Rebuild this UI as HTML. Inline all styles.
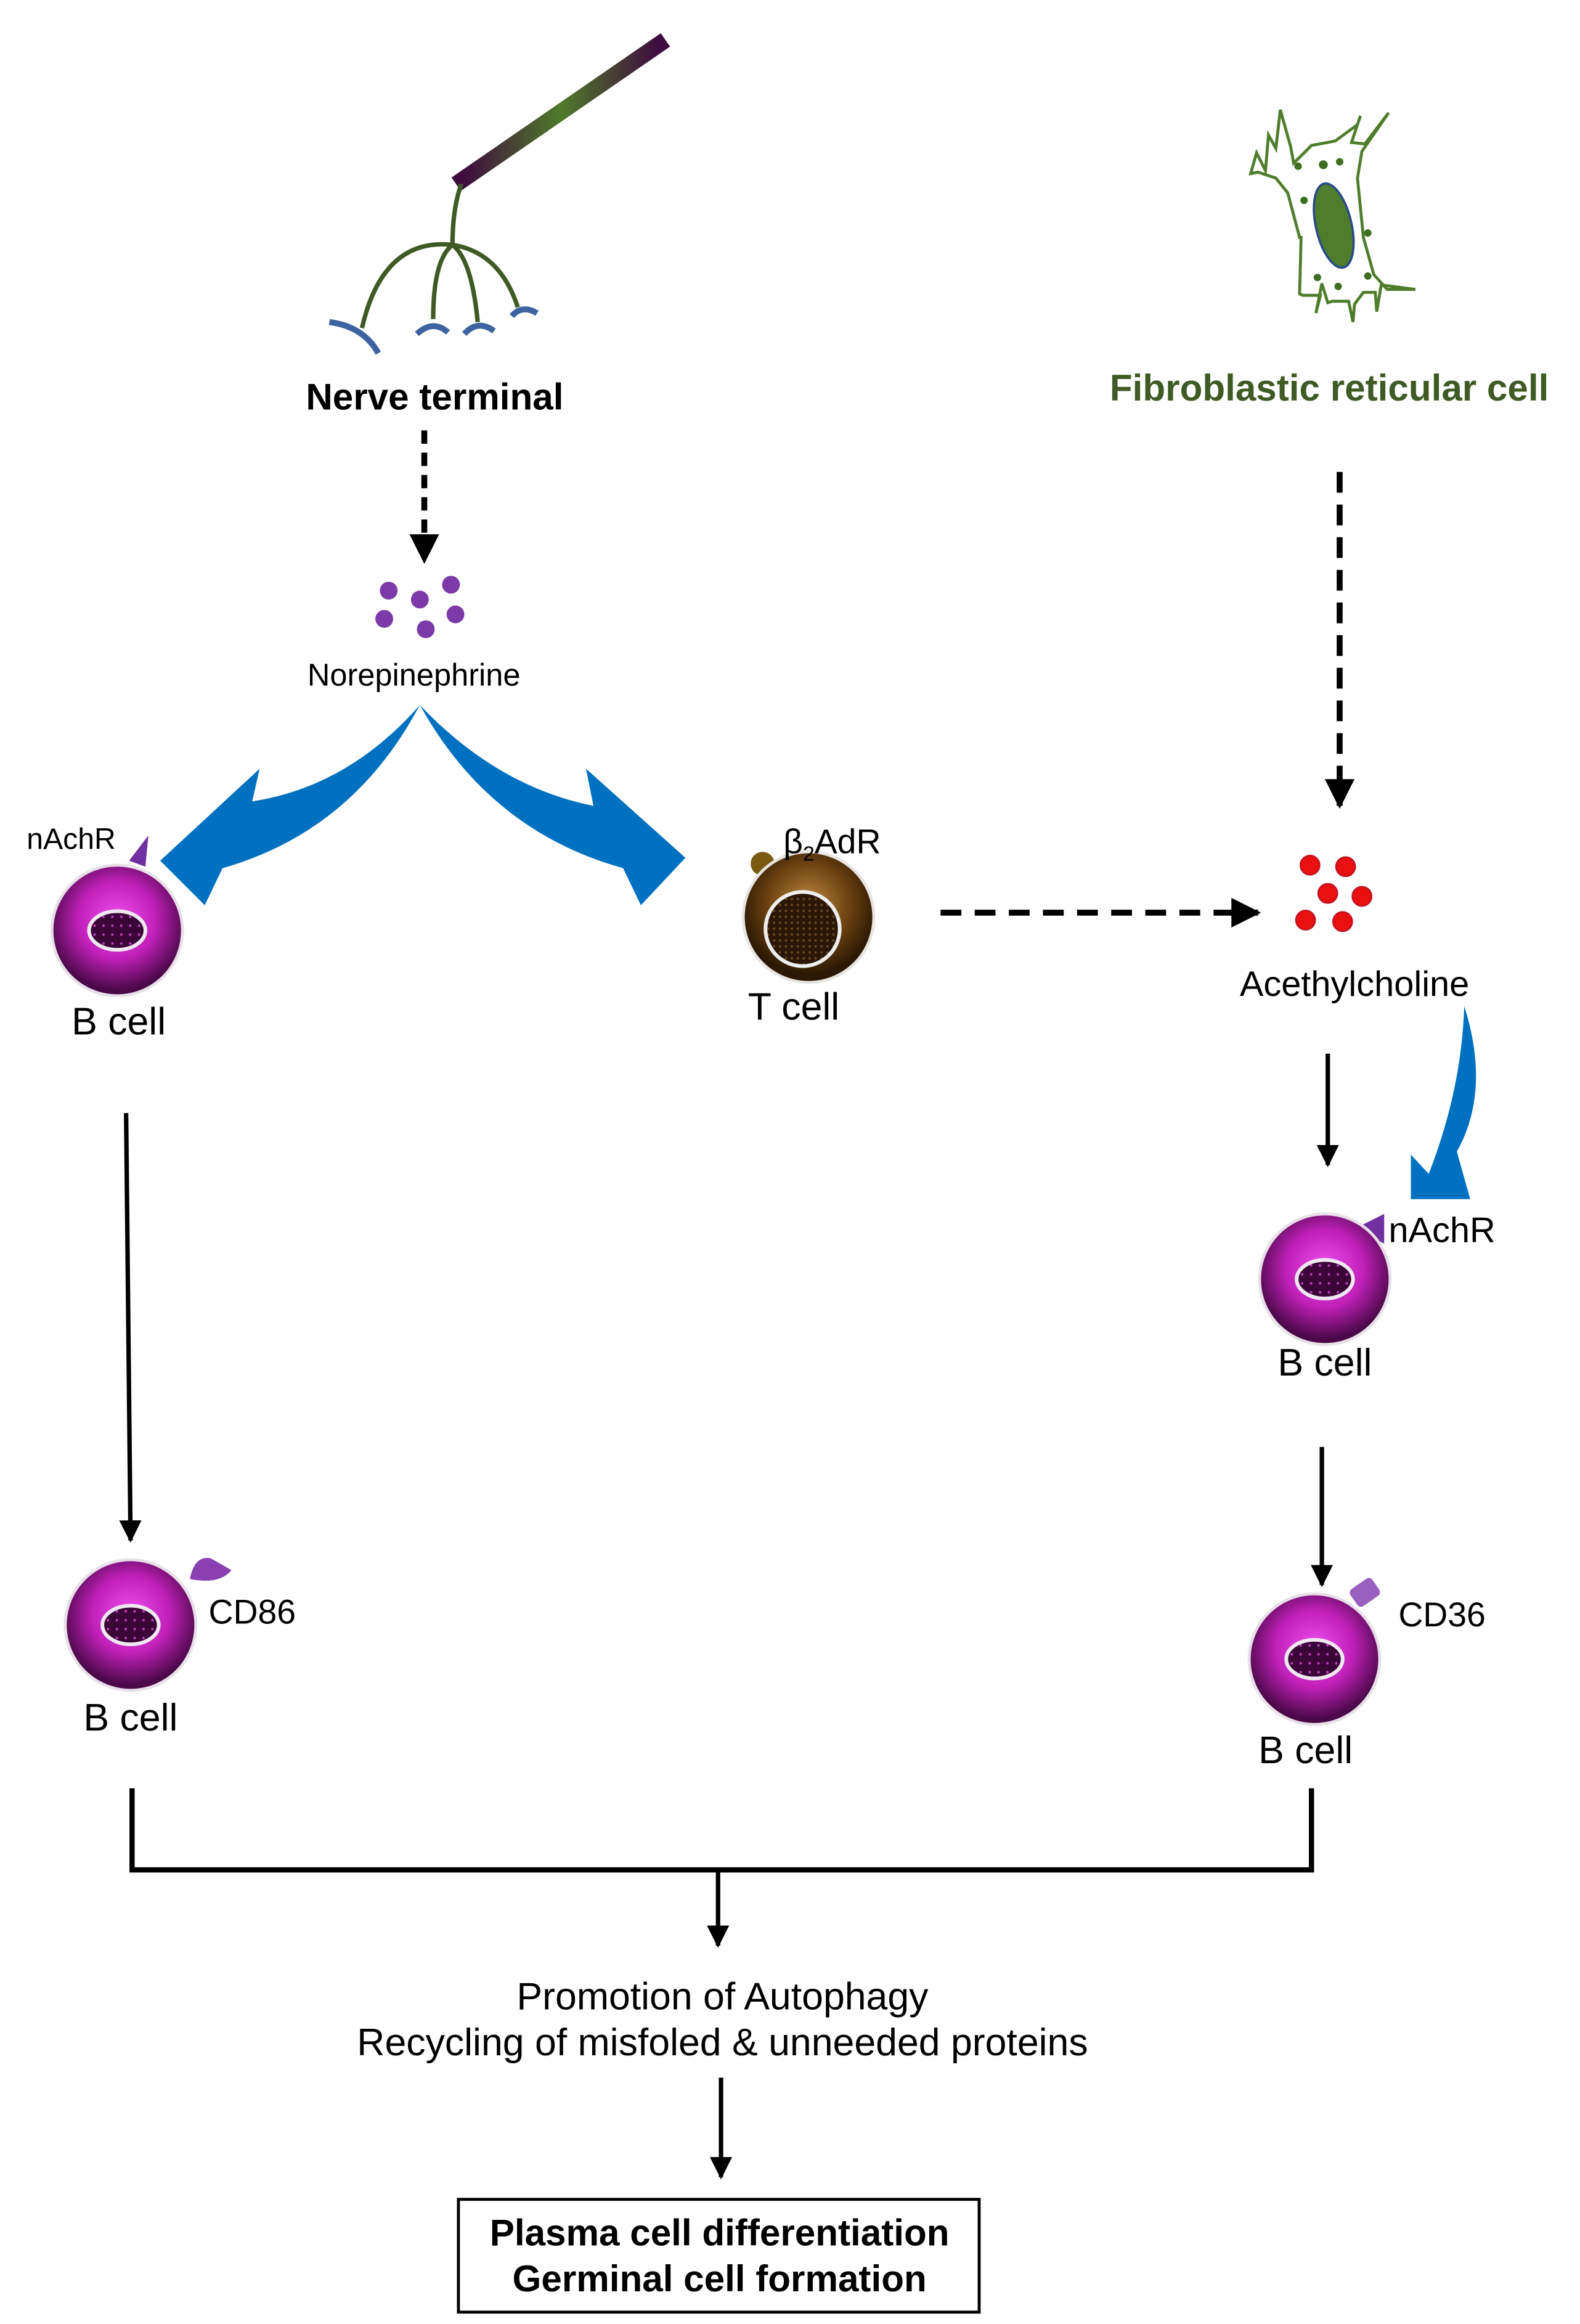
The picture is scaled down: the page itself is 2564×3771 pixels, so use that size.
<!DOCTYPE html>
<html><head><style>html,body{margin:0;padding:0;background:#fff}svg{display:block}</style></head>
<body>
<svg width="2564" height="3771" viewBox="0 0 1065 1566" preserveAspectRatio="none" xmlns="http://www.w3.org/2000/svg" font-family="Liberation Sans, sans-serif">
<defs>
<radialGradient id="bc" cx="50%" cy="42%" r="55%"><stop offset="0" stop-color="#f050f0"/><stop offset="0.55" stop-color="#c020b8"/><stop offset="1" stop-color="#4a0848"/></radialGradient>
<radialGradient id="tc" cx="50%" cy="40%" r="55%"><stop offset="0" stop-color="#c08a40"/><stop offset="0.6" stop-color="#6a4010"/><stop offset="1" stop-color="#2a1804"/></radialGradient>
<linearGradient id="rod" x1="0" y1="0" x2="1" y2="0"><stop offset="0" stop-color="#3e0c3e"/><stop offset="0.5" stop-color="#4f7a2a"/><stop offset="1" stop-color="#3e0c3e"/></linearGradient>
<pattern id="dots" width="6" height="6" patternUnits="userSpaceOnUse"><rect width="6" height="6" fill="#3a0638"/><rect x="2" y="2" width="1.5" height="1.5" fill="#c040c0"/></pattern>
<pattern id="tdots" width="4" height="4" patternUnits="userSpaceOnUse"><rect width="4" height="4" fill="#2a1606"/><rect x="1" y="1" width="1.5" height="1.5" fill="#6a4a20"/></pattern>
<marker id="ah" viewBox="0 0 10 10" refX="9" refY="5" markerWidth="5" markerHeight="5" orient="auto" markerUnits="strokeWidth"><path d="M0,0 L10,5 L0,10 Z" fill="#000"/></marker>
<g id="bcell"><circle r="45" fill="#e8e0e8"/><circle r="43" fill="url(#bc)"/><ellipse rx="19" ry="13" fill="url(#dots)" stroke="#f0e8f0" stroke-width="2.5"/></g>
</defs>

<!-- Nerve -->
<line x1="312" y1="121" x2="444" y2="30" stroke="url(#rod)" stroke-width="11" stroke-linecap="square"/>
<g fill="none" stroke="#3f5a24" stroke-width="3">
<path d="M311,124 Q305,140 305,165"/>
<path d="M305,165 Q258,160 244,221"/>
<path d="M305,165 Q292,175 292,215"/>
<path d="M305,165 Q318,175 322,217"/>
<path d="M305,165 Q337,170 349,207"/>
</g>
<g fill="none" stroke="#3d64a0" stroke-width="4">
<path d="M222,217 Q245,220 255,238"/>
<path d="M281,225 Q292,215 302,224"/>
<path d="M313,225 Q322,215 333,223"/>
<path d="M345,213 Q352,205 362,211"/>
</g>
<text x="293" y="276" font-size="25" font-weight="bold" text-anchor="middle" fill="#000">Nerve terminal</text>
<line x1="286" y1="290" x2="286" y2="378" stroke="#000" stroke-width="4" stroke-dasharray="9,6" marker-end="url(#ah)"/>
<g fill="#7b3aa8"><circle cx="262" cy="398" r="6"/><circle cx="283" cy="404" r="6"/><circle cx="304" cy="394" r="6"/><circle cx="259" cy="417" r="6"/><circle cx="287" cy="424" r="6"/><circle cx="307" cy="414" r="6"/></g>
<text x="279" y="462" font-size="21" text-anchor="middle">Norepinephrine</text>

<!-- blue arrows -->
<path d="M283,475 Q235,530 170,540 L175,518 L108,580 L138,610 L150,585 Q238,560 283,475 Z" fill="#0070c0"/>
<path d="M283,475 Q335,530 400,543 L395,518 L462,578 L432,610 L420,585 Q330,560 283,475 Z" fill="#0070c0"/>

<!-- left B cell -->
<polygon points="87,580 100,563 98,584" fill="#7030a0"/>
<use href="#bcell" x="79" y="627"/>
<text x="48" y="572" font-size="20" text-anchor="middle">nAchR</text>
<text x="80" y="697" font-size="26" text-anchor="middle">B cell</text>

<!-- T cell -->
<circle cx="514" cy="582" r="8" fill="#7a5a10"/>
<circle cx="545" cy="618" r="45" fill="#e8e4e0"/>
<circle cx="545" cy="618" r="43" fill="url(#tc)"/>
<circle cx="541" cy="626" r="25" fill="url(#tdots)" stroke="#eee" stroke-width="2.5"/>
<text x="528" y="575" font-size="23">β<tspan font-size="14" dy="5">2</tspan><tspan dy="-5">AdR</tspan></text>
<text x="535" y="687" font-size="26" text-anchor="middle">T cell</text>
<line x1="634" y1="615" x2="848" y2="615" stroke="#000" stroke-width="4" stroke-dasharray="14,9" marker-end="url(#ah)"/>

<!-- Fibroblast -->
<g fill="none" stroke="#4e7d2c" stroke-width="2">
<path d="M843,117 L847,103 L853,115 L855,91 L860,100 L863,74 L870,99 L872,110 L884,98 L900,95 L915,84 L917,78 L911,96 L920,97 L936,76 L918,102 L915,120 L919,160 L926,185 L935,195 L954,195 L931,192 L928,210 L927,197 L919,197 L913,205 L912,217 L909,203 L898,203 L895,204 L891,191 L887,211 L890,199 L878,199 L876,198 L877,160 L876,160 L868,130 L860,120 L848,116 Z"/>
</g>
<ellipse cx="899" cy="152" rx="12" ry="29" transform="rotate(-13 899 152)" fill="#4e7d2c" stroke="#2a4a8a" stroke-width="1.5"/>
<g fill="#3e6e20"><circle cx="875" cy="112" r="2.5"/><circle cx="892" cy="111" r="3"/><circle cx="903" cy="109" r="2.5"/><circle cx="879" cy="135" r="2.5"/><circle cx="922" cy="157" r="2.5"/><circle cx="888" cy="187" r="2.5"/><circle cx="902" cy="193" r="2.5"/><circle cx="922" cy="186" r="2.5"/></g>
<text x="896" y="270" font-size="25" font-weight="bold" text-anchor="middle" fill="#3f5a24">Fibroblastic reticular cell</text>
<line x1="903" y1="318" x2="903" y2="543" stroke="#000" stroke-width="4" stroke-dasharray="14,8" marker-end="url(#ah)"/>

<!-- Acetylcholine -->
<g fill="#e81010" stroke="#c01020" stroke-width="1"><circle cx="883" cy="583" r="6.5"/><circle cx="907" cy="584" r="6.5"/><circle cx="895" cy="602" r="6.5"/><circle cx="918" cy="604" r="6.5"/><circle cx="880" cy="620" r="6.5"/><circle cx="905" cy="621" r="6.5"/></g>
<text x="913" y="671" font-size="24" text-anchor="middle">Acethylcholine</text>
<line x1="895" y1="710" x2="895" y2="785" stroke="#000" stroke-width="3" marker-end="url(#ah)"/>
<path d="M987,678 Q1005,735 982,776 L991,808 L951,808 L951,778 L963,791 Q985,735 987,678 Z" fill="#0070c0"/>

<!-- right B cell 1 -->
<polygon points="913,828 933,818 933,838" fill="#7030a0"/>
<use href="#bcell" x="893" y="862"/>
<text x="972" y="837" font-size="24" text-anchor="middle">nAchR</text>
<text x="893" y="927" font-size="26" text-anchor="middle">B cell</text>
<line x1="891" y1="975" x2="891" y2="1068" stroke="#000" stroke-width="3" marker-end="url(#ah)"/>

<!-- right B cell 2 -->
<rect x="911" y="1066" width="18" height="14" rx="3" fill="#9a60c0" transform="rotate(-35 920 1073)"/>
<use href="#bcell" x="886" y="1118"/>
<text x="972" y="1096" font-size="23" text-anchor="middle">CD36</text>
<text x="880" y="1188" font-size="26" text-anchor="middle">B cell</text>

<!-- left column -->
<line x1="85" y1="750" x2="88" y2="1038" stroke="#000" stroke-width="3" marker-end="url(#ah)"/>
<path d="M128,1064 Q131,1048 142,1050 L156,1058 Q148,1068 128,1064 Z" fill="#8a40b0"/>
<use href="#bcell" x="88" y="1095"/>
<text x="170" y="1094" font-size="23" text-anchor="middle">CD86</text>
<text x="88" y="1166" font-size="26" text-anchor="middle">B cell</text>

<!-- bracket -->
<path d="M89,1205 L89,1260 L884,1260 L884,1205" fill="none" stroke="#000" stroke-width="3.5"/>
<line x1="484" y1="1260" x2="484" y2="1311" stroke="#000" stroke-width="3" marker-end="url(#ah)"/>
<text x="487" y="1354" font-size="26" text-anchor="middle">Promotion of Autophagy</text>
<text x="487" y="1385" font-size="26" text-anchor="middle">Recycling of misfoled &amp; unneeded proteins</text>
<line x1="486" y1="1400" x2="486" y2="1467" stroke="#000" stroke-width="3" marker-end="url(#ah)"/>
<rect x="309" y="1482" width="351" height="76" fill="none" stroke="#000" stroke-width="2"/>
<text x="485" y="1513" font-size="25" font-weight="bold" text-anchor="middle">Plasma cell differentiation</text>
<text x="485" y="1544" font-size="25" font-weight="bold" text-anchor="middle">Germinal cell formation</text>
</svg>
</body></html>
